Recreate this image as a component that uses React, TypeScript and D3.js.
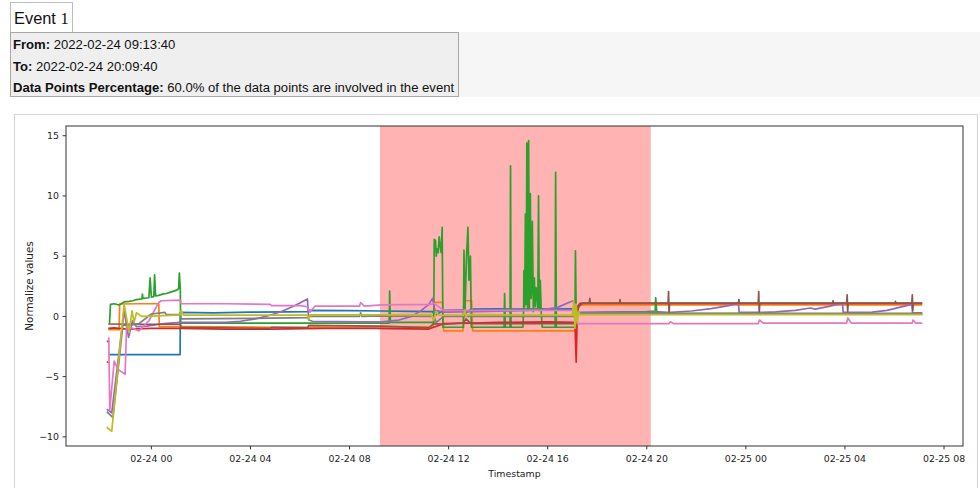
import React from 'react';
import * as d3 from 'd3';

// event header
const EVENT_TITLE = 'Event ';
const EVENT_NUM = '1';
const EVENT_FROM = '2022-02-24 09:13:40';
const EVENT_TO = '2022-02-24 20:09:40';
const EVENT_PCT = '60.0%';

const BASE = new Date(2022, 1, 24, 0, 0, 0);
const yTicks = [-10, -5, 0, 5, 10, 15];

// [hours from 02-24 00:00, normalized value]; null breaks the line
type Pt = [number, number | null];

const blue: Pt[] = [
  [-1.72, -3.17], [0.5, -3.17], [1.16, -3.17], [1.17, 0.33], [2.5, 0.3], [4.0, 0.35], [5.5, 0.38],
  [6.3, 0.4], [6.35, 0.5], [8.0, 0.48], [9.3, 0.45], [10.5, 0.42], [11.35, 0.4], [11.45, 0.1],
  [11.8, 0.5], [12.6, 0.55], [12.7, 0.3], [12.9, 0.6], [14.0, 0.62], [15.5, 0.6], [17.0, 0.62],
  [17.2, 0.2], [20.0, 0.22], [24.0, 0.2], [28.0, 0.2], [31.12, 0.2],
];
const orange: Pt[] = [
  [-1.74, -1.1], [-1.3, -1.1], [-1.28, 1.03], [-0.5, 1.05], [0.3, 1.05], [0.32, -0.85], [1.17, -0.85],
  [4.8, -0.9], [9.3, -0.88], [11.38, -0.85], [11.42, 1.16], [11.76, 1.16], [11.8, -1.2], [12.58, -1.2],
  [12.62, 1.3], [12.93, 1.3], [12.97, -1.2], [15.0, -1.2], [17.1, -1.2], [17.2, 0.5], [17.3, 0.95],
  [20.0, 0.95], [24.0, 0.95], [28.0, 0.95], [31.12, 0.95],
];
const green: Pt[] = [
  [-1.69, -0.6], [-1.65, 1.0], [-1.5, 1.05], [-1.3, 0.95], [-1.1, 1.2], [-0.9, 1.25], [-0.75, 1.3],
  [-0.6, 1.4], [-0.38, 1.45], [-0.36, 1.85], [-0.34, 1.5], [-0.1, 1.55], [-0.05, 3.2], [0.0, 1.6],
  [0.1, 1.65], [0.13, 3.45], [0.17, 1.7], [0.3, 1.75], [0.45, 1.85], [0.6, 1.9], [0.75, 2.0],
  [0.9, 2.1], [1.05, 2.2], [1.1, 2.3], [1.13, 3.6], [1.17, 2.2], [1.18, -0.55], [4.8, -0.55],
  [9.6, -0.55], [9.62, 2.1], [9.65, -0.5], [11.4, -0.5], [11.42, 6.4], [11.47, 6.3], [11.5, 5.0],
  [11.53, 5.6], [11.58, 5.3], [11.62, 6.6], [11.65, 6.0], [11.7, 5.3], [11.74, 7.4], [11.77, -0.9],
  [12.6, -0.9], [12.62, 5.5], [12.66, 0.2], [12.72, 4.8], [12.78, 7.4], [12.82, 3.0], [12.88, 5.0],
  [12.92, -0.9], [14.24, -0.9], [14.26, 1.9], [14.29, -0.9], [14.48, -0.9], [14.5, 12.5],
  [14.52, -0.9], [15.0, -0.9], [15.03, 0.7], [15.04, 3.8], [15.07, 0.8], [15.1, 8.5], [15.13, 1.0],
  [15.16, 14.4], [15.19, 0.5], [15.23, 14.6], [15.26, 0.6], [15.3, 10.2], [15.33, 1.5], [15.36, 2.6],
  [15.38, 7.9], [15.42, 0.4], [15.46, 3.2], [15.5, 0.8], [15.53, 2.4], [15.56, 2.0], [15.6, 0.6],
  [15.63, 10.0], [15.66, 0.5], [15.7, 3.0], [15.74, 0.3], [15.78, -0.9], [16.3, -0.9],
  [16.32, 11.95], [16.35, -0.9], [17.1, -0.9], [17.12, 5.45], [17.15, 0.3], [18.5, 0.35],
  [20.0, 0.4], [20.34, 0.45], [20.36, 1.55], [20.4, 0.4], [21.0, 0.25], [26.0, 0.22], [31.12, 0.2],
];
const red: Pt[] = [
  [-1.8, -3.8], [-1.74, -3.8], [-1.74, null], [-1.8, -2.07], [-1.74, -2.07], [-1.74, null],
  [-1.74, -1.0], [-1.5, -0.95], [-1.0, -1.05], [0.0, -1.0], [1.17, -1.0], [3.0, -1.05], [4.8, -1.05],
  [7.0, -1.0], [9.0, -1.0], [11.2, -1.05], [11.4, -0.9], [11.8, -0.6], [12.5, -0.55], [12.9, -0.55],
  [14.0, -0.5], [16.0, -0.45], [17.1, -0.5], [17.15, -3.8], [17.2, 0.8], [17.3, 1.08], [24.0, 1.08],
  [31.12, 1.08],
];
const purple: Pt[] = [
  [-1.8, -7.7], [-1.6, -8.0], [-1.1, 0.47], [-0.92, -1.74], [-0.76, -0.36], [-0.6, -0.85],
  [-0.2, -0.8], [0.5, -0.6], [1.17, -0.5], [2.0, -0.5], [3.0, -0.5], [3.6, -0.4], [4.2, -0.2],
  [4.8, 0.1], [5.3, 0.45], [5.8, 0.9], [6.3, 1.45], [6.35, -0.3], [6.5, -0.4], [8.5, -0.45],
  [9.3, -0.45], [10.0, -0.3], [10.5, 0.0], [10.9, 0.5], [11.2, 1.0], [11.35, 1.5], [11.45, 0.5],
  [11.8, 0.35], [13.0, 0.4], [14.5, 0.45], [15.8, 0.55], [16.4, 0.75], [16.9, 1.2], [17.05, 1.3],
  [17.2, 0.33], [20.97, 0.33], [21.8, 0.45], [22.6, 0.65], [23.3, 0.9], [23.7, 1.1], [23.73, 0.33],
  [24.52, 0.33], [25.2, 0.38], [26.0, 0.5], [26.6, 0.7], [26.8, 0.6], [27.4, 0.85], [27.9, 1.1],
  [27.93, 0.33], [29.1, 0.35], [29.7, 0.5], [30.2, 0.75], [30.7, 1.0], [30.73, 0.3], [31.12, 0.3],
];
const brown: Pt[] = [
  [-1.74, -0.63], [-0.5, -0.65], [1.17, -0.65], [1.2, -0.9], [4.8, -1.0], [4.85, -0.9], [6.3, -0.95],
  [6.35, -0.75], [9.26, -0.8], [11.2, -0.95], [11.4, -0.6], [11.8, -0.65], [12.6, -0.55],
  [12.7, -0.2], [12.9, -0.6], [17.1, -0.6], [17.25, 0.8], [17.4, 1.1], [17.68, 1.1], [17.7, 1.5],
  [17.72, 1.1], [18.9, 1.1], [18.92, 1.4], [18.94, 1.1], [20.86, 1.1], [20.88, 2.07], [20.9, 0.2],
  [20.92, 1.1], [23.7, 1.1], [23.72, 1.4], [23.74, 1.1], [24.5, 1.1], [24.52, 2.07], [24.54, 0.3],
  [24.56, 1.1], [27.5, 1.1], [27.52, 1.3], [27.54, 1.1], [28.07, 1.1], [28.09, 1.8], [28.11, 0.4],
  [28.13, 1.1], [30.02, 1.1], [30.04, 1.25], [30.06, 1.1], [30.7, 1.1], [30.72, 1.8], [30.74, 0.5],
  [30.76, 1.1], [31.12, 1.1],
];
const pink: Pt[] = [
  [-1.72, -1.74], [-1.68, -7.8], [-1.5, -3.7], [-1.35, -4.4], [-1.06, -4.8], [-1.0, -0.77],
  [-0.5, -1.2], [-0.1, -0.36], [0.3, 1.16], [0.4, 1.3], [1.17, 1.36], [1.2, 1.05], [3.0, 1.05],
  [4.8, 1.0], [4.85, 0.9], [6.0, 0.9], [6.3, 0.8], [6.4, 0.35], [6.6, 0.85], [8.4, 0.85],
  [8.45, 1.15], [8.6, 0.85], [9.3, 0.95], [11.3, 1.0], [11.4, 1.1], [11.8, 0.5], [14.0, 0.5],
  [17.0, 0.5], [17.1, 1.0], [17.2, -0.6], [20.9, -0.6], [20.95, -0.45], [21.1, -0.6], [24.5, -0.6],
  [24.55, -0.3], [24.7, -0.55], [28.07, -0.55], [28.12, -0.13], [28.25, -0.55], [30.72, -0.55],
  [30.75, -0.3], [30.85, -0.55], [31.12, -0.55],
];
const gray: Pt[] = [
  [-1.8, -7.9], [-1.55, -8.4], [-1.15, -0.7], [-0.9, -0.75], [-0.5, -0.6], [0.0, 0.2], [0.55, 0.33],
  [0.6, 0.15], [1.17, 0.15], [1.2, -0.2], [4.8, -0.15], [6.3, -0.1], [6.35, 0.0], [8.4, 0.0],
  [8.45, 0.3], [8.5, 0.0], [9.3, 0.05], [11.4, 0.0], [11.5, -0.5], [11.8, 0.0], [17.1, 0.0],
  [17.2, 0.25], [24.0, 0.25], [31.12, 0.25],
];
const olive: Pt[] = [
  [-1.8, -9.2], [-1.6, -9.55], [-1.1, 1.03], [-0.9, -1.33], [-0.78, 0.47], [-0.7, -0.5],
  [-0.6, 0.3], [-0.4, 0.0], [0.0, 0.02], [0.5, 0.06], [1.17, 0.12], [1.2, 0.5], [1.3, 0.1],
  [4.8, 0.1], [6.3, 0.1], [6.35, -0.3], [6.4, 0.12], [9.3, 0.12], [11.3, 0.15], [11.4, -0.3],
  [11.5, 0.4], [11.6, 0.1], [12.6, 0.1], [12.65, 0.5], [12.7, 0.0], [12.8, 0.15], [17.0, 0.1],
  [17.05, 1.3], [17.1, -1.0], [17.15, 1.0], [17.2, -0.5], [17.25, 0.4], [17.3, 0.15], [31.12, 0.15],
];

const series = [blue, orange, green, red, purple, brown, pink, gray, olive];
const colors = d3.schemeCategory10;

const margin = { left: 66, right: 963, top: 126, bottom: 446 };
const toDate = (h: number) => new Date(BASE.getTime() + h * 3600 * 1000);
const parse = d3.timeParse('%Y-%m-%d %H:%M:%S');

function pad([a, b]: [number, number]): [number, number] {
  const m = (b - a) * 0.05;
  return [a - m, b + m];
}

const Chart = () => {
  const all = series.flat();
  const hx = pad(d3.extent(all, d => d[0]) as [number, number]);
  const vy = pad(d3.extent(all.filter(d => d[1] !== null), d => d[1] as number) as [number, number]);
  const x = d3.scaleTime().domain([toDate(hx[0]), toDate(hx[1])]).range([margin.left, margin.right]);
  const y = d3.scaleLinear().domain(vy).range([margin.bottom, margin.top]);
  const line = d3.line<Pt>()
    .defined(d => d[1] !== null)
    .x(d => x(toDate(d[0])))
    .y(d => y(d[1] as number));
  const xTicks = x.ticks(d3.timeHour.every(4) as d3.TimeInterval);
  const fmt = d3.timeFormat('%m-%d %H');
  const yFmt = d3.format('d');
  const x0 = x(parse(EVENT_FROM) as Date);
  const x1 = x(parse(EVENT_TO) as Date);
  const font = 'DejaVu Sans, sans-serif';

  return (
    <g>
      <rect x={14.5} y={114.5} width={963} height={380} fill="#fff" stroke="#d4d4d4" />
      <clipPath id="plot">
        <rect x={margin.left} y={margin.top} width={margin.right - margin.left} height={margin.bottom - margin.top} />
      </clipPath>
      <rect x={x0} y={margin.top} width={x1 - x0} height={margin.bottom - margin.top} fill="#ffb3b3" />
      <g clipPath="url(#plot)">
        {series.map((s, i) => (
          <path key={i} d={line(s) || ''} fill="none" stroke={colors[i]} strokeWidth={1.7} strokeLinejoin="round" />
        ))}
      </g>
      <rect x={margin.left} y={margin.top} width={margin.right - margin.left} height={margin.bottom - margin.top}
        fill="none" stroke="#333" strokeWidth={1} />
      {xTicks.map((t, i) => (
        <g key={i} transform={`translate(${x(t)},${margin.bottom})`}>
          <line y2={3.4} stroke="#333" />
          <text y={16} textAnchor="middle" fontSize={9.4} fontFamily={font} fill="#222">{fmt(t)}</text>
        </g>
      ))}
      {yTicks.map((t, i) => (
        <g key={i} transform={`translate(${margin.left},${y(t)})`}>
          <line x2={-3.4} stroke="#333" />
          <text x={-7} dy="0.34em" textAnchor="end" fontSize={9.4} fontFamily={font} fill="#222">{yFmt(t)}</text>
        </g>
      ))}
      <text x={(margin.left + margin.right) / 2} y={477} textAnchor="middle" fontSize={9.4} fontFamily={font} fill="#222">Timestamp</text>
      <text transform={`translate(33,${(margin.top + margin.bottom) / 2}) rotate(-90)`} textAnchor="middle"
        fontSize={10.4} fontFamily={font} fill="#222">Normalize values</text>
    </g>
  );
};

const Header = () => {
  const font = 'Liberation Sans, Arial, sans-serif';
  return (
    <g fontFamily={font} fill="#111">
      <rect x={10.5} y={2.5} width={62} height={30} fill="#fff" stroke="#bdbdbd" />
      <text x={14} y={24} fontSize={16.4}>{EVENT_TITLE}<tspan fontFamily="Liberation Serif, serif">{EVENT_NUM}</tspan></text>
      <rect x={459} y={32} width={521} height={65} fill="#f6f6f6" />
      <rect x={10.5} y={32.5} width={448} height={64} fill="#efefef" stroke="#a8a8a8" />
      <text x={13} y={49} fontSize={13.1}><tspan fontWeight="bold">From:</tspan> {EVENT_FROM}</text>
      <text x={13} y={70.5} fontSize={13.1}><tspan fontWeight="bold">To:</tspan> {EVENT_TO}</text>
      <text x={13} y={92} fontSize={13.1}><tspan fontWeight="bold">Data Points Percentage:</tspan> {EVENT_PCT} of the data points are involved in the event</text>
    </g>
  );
};

export default function App() {
  return (
    <div style={{ position: 'fixed', left: 0, top: 0, width: 980, height: 488, background: '#fff' }}>
      <svg width={980} height={488} style={{ display: 'block' }}>
        <Header />
        <Chart />
      </svg>
    </div>
  );
}
